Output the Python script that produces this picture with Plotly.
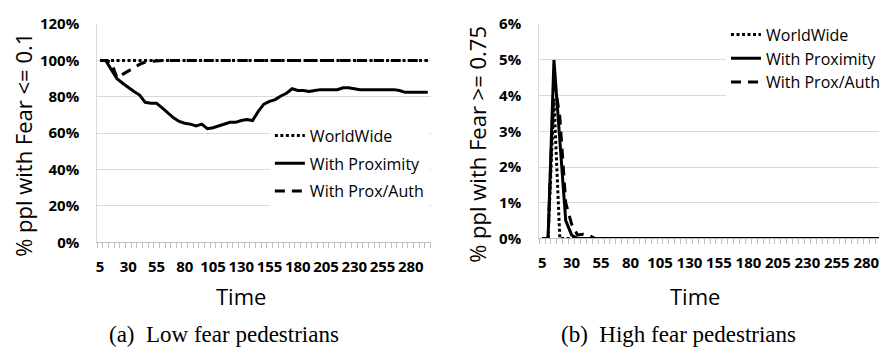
import plotly.graph_objects as go

# ---------------- data ----------------
time = [5, 10, 15, 20, 25, 30, 35, 40, 45, 50, 55, 60, 65, 70, 75, 80, 85, 90, 95, 100,
        105, 110, 115, 120, 125, 130, 135, 140, 145, 150, 155, 160, 165, 170, 175, 180,
        185, 190, 195, 200, 205, 210, 215, 220, 225, 230, 235, 240, 245, 250, 255, 260,
        265, 270, 275, 280, 285, 290, 295]
tick_labels = [5, 30, 55, 80, 105, 130, 155, 180, 205, 230, 255, 280]

# (a) Low fear pedestrians: % ppl with Fear <= 0.1
low_worldwide = [100, 100, 100, 100, 100, 100, 100, 100, 100, 100, 100, 100, 100, 100, 100,
                 100, 100, 100, 100, 100, 100, 100, 100, 100, 100, 100, 100, 100, 100, 100,
                 100, 100, 100, 100, 100, 100, 100, 100, 100, 100, 100, 100, 100, 100, 100,
                 100, 100, 100, 100, 100, 100, 100, 100, 100, 100, 100, 100, 100, 100]
low_proximity = [100, 100, 95, 90, 87.5, 85, 83, 81, 77, 76.5, 76.5, 74, 71, 68.5, 66.5,
                 65.5, 65, 64, 65, 62.5, 63, 64, 65, 66, 66, 67, 67.5, 67, 72, 76,
                 77.5, 78.5, 80.5, 82, 84.5, 83.5, 83.5, 83, 83.5, 84, 84, 84, 84, 85, 85,
                 84.5, 84, 84, 84, 84, 84, 84, 84, 83.5, 82.5, 82.5, 82.5, 82.5, 82.5]
low_proxauth = [100, 100, 99, 90.5, 92.4, 94.2, 96.1, 97.9, 99.2, 99.6, 99.8, 100, 100, 100, 100,
                100, 100, 100, 100, 100, 100, 100, 100, 100, 100, 100, 100, 100, 100, 100,
                100, 100, 100, 100, 100, 100, 100, 100, 100, 100, 100, 100, 100, 100, 100,
                100, 100, 100, 100, 100, 100, 100, 100, 100, 100, 100, 100, 100, 100]

# (b) High fear pedestrians: % ppl with Fear >= 0.75
high_worldwide = [0, 0, 3.9, 0, 0, 0, 0, 0, 0, 0, 0, 0, 0, 0, 0, 0, 0, 0, 0, 0,
                  0, 0, 0, 0, 0, 0, 0, 0, 0, 0, 0, 0, 0, 0, 0, 0, 0, 0, 0, 0,
                  0, 0, 0, 0, 0, 0, 0, 0, 0, 0, 0, 0, 0, 0, 0, 0, 0, 0, 0]
high_proximity = [0, 0, 5.0, 2.7, 0.5, 0.1, 0, 0, 0, 0, 0, 0, 0, 0, 0, 0, 0, 0, 0, 0,
                  0, 0, 0, 0, 0, 0, 0, 0, 0, 0, 0, 0, 0, 0, 0, 0, 0, 0, 0, 0,
                  0, 0, 0, 0, 0, 0, 0, 0, 0, 0, 0, 0, 0, 0, 0, 0, 0, 0, 0]
high_proxauth = [0, 0, 4.5, 3.4, 1.0, 0.4, 0.1, 0.12, 0.08, 0, 0, 0, 0, 0, 0, 0, 0, 0, 0, 0,
                 0, 0, 0, 0, 0, 0, 0, 0, 0, 0, 0, 0, 0, 0, 0, 0, 0, 0, 0, 0,
                 0, 0, 0, 0, 0, 0, 0, 0, 0, 0, 0, 0, 0, 0, 0, 0, 0, 0, 0]

series_names = ["WorldWide", "With Proximity", "With Prox/Auth"]

# ---------------- styling ----------------
W, H = 885, 357
SANS = "Open Sans"
DOT = "3px,2.5px"
DASH = "10px,7px"
GRID = "#d9d9d9"
AXIS = "#bfbfbf"

fig = go.Figure()

styles = [dict(color="black", width=3, dash=DOT),
          dict(color="black", width=3, dash="solid"),
          dict(color="black", width=3, dash=DASH)]

for name, ys, st in zip(series_names, [low_worldwide, low_proximity, low_proxauth], styles):
    fig.add_trace(go.Scatter(x=time, y=ys, mode="lines", name=name, line=st,
                             xaxis="x", yaxis="y", legend="legend",
                             legendgroup="a" + name))

for name, ys, st in zip(series_names, [high_worldwide, high_proximity, high_proxauth], styles):
    fig.add_trace(go.Scatter(x=time, y=ys, mode="lines", name=name, line=st,
                             xaxis="x2", yaxis="y2", legend="legend2",
                             legendgroup="b" + name))


def px_x(p):
    return p / W


def px_y(p):
    return (H - p) / H


xcommon = dict(
    tickmode="array", tickvals=tick_labels, ticktext=[str(t) for t in tick_labels],
    tickfont=dict(family=SANS, size=15, color="black", weight="bold"),
    showgrid=False, zeroline=False, showline=True, linecolor=AXIS, linewidth=1,
    ticks="", ticklabelstandoff=11, ticklabeloverflow="allow",
    minor=dict(ticks="outside", tick0=2.5, dtick=5, ticklen=5, tickcolor=AXIS,
               tickwidth=1, showgrid=False),
    fixedrange=True,
)
ycommon = dict(
    ticksuffix="%", tickfont=dict(family=SANS, size=15, color="black", weight="bold"),
    showgrid=True, gridcolor=GRID, gridwidth=1, zeroline=False,
    showline=True, linecolor=GRID, linewidth=1, ticks="", ticklabelstandoff=14,
    fixedrange=True,
)

fig.update_layout(
    width=W, height=H, margin=dict(l=0, r=0, t=0, b=0),
    paper_bgcolor="white", plot_bgcolor="white",
    xaxis=dict(domain=[px_x(97), px_x(433)], range=[2.5, 297.5], anchor="y", **xcommon),
    yaxis=dict(domain=[px_y(245), px_y(14)], range=[0, 120], dtick=20, anchor="x", **ycommon),
    xaxis2=dict(domain=[px_x(542.5), 1.0], range=[2.5, 290.8], anchor="y2", **xcommon),
    yaxis2=dict(domain=[px_y(241), px_y(14)], range=[0, 6], dtick=1, anchor="x2", **ycommon),
    legend=dict(x=px_x(271), y=px_y(114), xanchor="left", yanchor="top",
                bgcolor="white", font=dict(family=SANS, size=16, color="black"),
                tracegroupgap=4, itemwidth=30),
    legend2=dict(x=px_x(731), y=px_y(7), xanchor="left", yanchor="top",
                 bgcolor="white", font=dict(family=SANS, size=16, color="black"),
                 tracegroupgap=0, itemwidth=30),
    showlegend=True,
)

annotations = [
    dict(text="% ppl with Fear <= 0.1", x=px_x(22), y=px_y(142), textangle=-90,
         font=dict(family=SANS, size=22, color="black")),
    dict(text="% ppl with Fear >= 0.75", x=px_x(479), y=px_y(141.5), textangle=-90,
         font=dict(family=SANS, size=22, color="black")),
    dict(text="Time", x=px_x(242), y=px_y(302), font=dict(family=SANS, size=22, color="black")),
    dict(text="Time", x=px_x(700), y=px_y(302), font=dict(family=SANS, size=22, color="black")),
    dict(text="(a)  Low fear pedestrians", x=px_x(224.5), y=px_y(343),
         font=dict(family="Liberation Serif", size=23, color="black")),
    dict(text="(b)  High fear pedestrians", x=px_x(683), y=px_y(343),
         font=dict(family="Liberation Serif", size=23, color="black")),
]
for a in annotations:
    a.update(xref="paper", yref="paper", showarrow=False, xanchor="center", yanchor="middle")
fig.update_layout(annotations=annotations)

fig.write_html("out.html")
